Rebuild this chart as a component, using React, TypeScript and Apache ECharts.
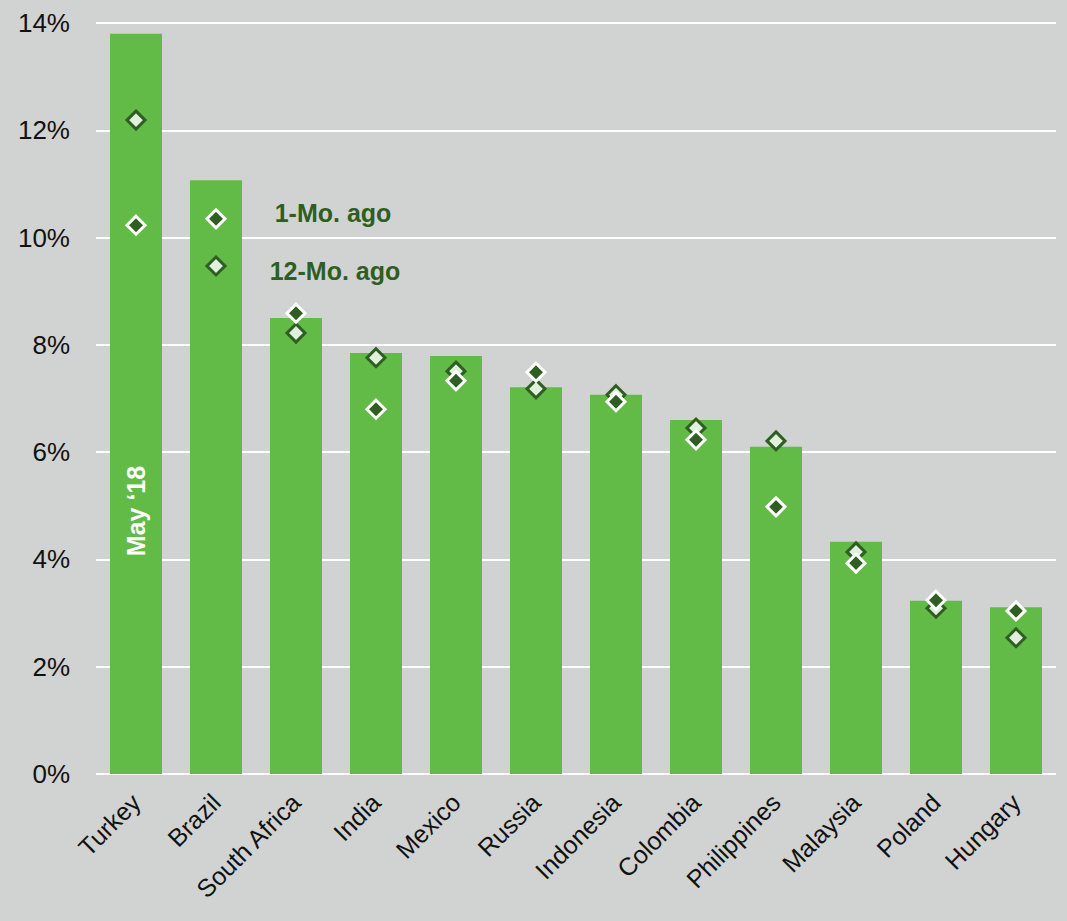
import React, { useEffect, useRef } from "react";
import * as echarts from "echarts";

const categories = ["Turkey", "Brazil", "South Africa", "India", "Mexico", "Russia", "Indonesia", "Colombia", "Philippines", "Malaysia", "Poland", "Hungary"];
const may18 = [13.8, 11.07, 8.5, 7.85, 7.79, 7.21, 7.07, 6.6, 6.1, 4.33, 3.23, 3.11];
const oneMoAgo = [10.23, 10.35, 8.59, 6.8, 7.33, 7.49, 6.94, 6.23, 4.98, 3.93, 3.24, 3.04];
const twelveMoAgo = [12.19, 9.47, 8.22, 7.76, 7.51, 7.18, 7.07, 6.45, 6.21, 4.14, 3.09, 2.54];
const yTicks = [0, 2, 4, 6, 8, 10, 12, 14];

const DARK = "#2e5e22";
const LIGHT = "#e0f0dc";
const BAR = "#62bb46";
const BG = "#d1d3d2";
const FONT = "'Liberation Sans', Arial, sans-serif";

export default function App() {
  const ref = useRef<HTMLDivElement>(null);
  useEffect(() => {
    document.body.style.margin = "0";
    const chart = echarts.init(ref.current!, null, { renderer: "svg" });
    chart.setOption({
      animation: false,
      backgroundColor: BG,
      grid: { left: 96, right: 11, top: 23, bottom: 147 },
      xAxis: {
        type: "category",
        data: categories,
        axisLine: { show: false },
        axisTick: { show: false },
        axisLabel: {
          rotate: 45,
          interval: 0,
          fontSize: 25,
          color: "#111",
          fontFamily: FONT,
          margin: 24,
        },
      },
      yAxis: {
        type: "value",
        min: yTicks[0],
        max: yTicks[yTicks.length - 1],
        interval: 2,
        axisLine: { show: false },
        axisTick: { show: false },
        splitLine: { lineStyle: { color: "#ffffff", width: 2 } },
        axisLabel: {
          formatter: (v: number) => v + "%",
          fontSize: 26,
          color: "#111",
          fontFamily: FONT,
          margin: 26,
        },
      },
      series: [
        {
          name: "May '18",
          type: "bar",
          data: may18,
          barWidth: 52,
          itemStyle: { color: BAR },
          z: 2,
        },
        {
          name: "12-Mo. ago",
          type: "scatter",
          data: twelveMoAgo,
          symbol: "diamond",
          symbolSize: 18,
          itemStyle: { color: LIGHT, borderColor: DARK, borderWidth: 3, opacity: 1 },
          z: 3,
        },
        {
          name: "1-Mo. ago",
          type: "scatter",
          data: oneMoAgo,
          symbol: "diamond",
          symbolSize: 18,
          itemStyle: { color: DARK, borderColor: "#ffffff", borderWidth: 3, opacity: 1 },
          z: 4,
        },
      ],
      graphic: [
        {
          type: "text",
          x: 333,
          y: 213,
          style: { text: "1-Mo. ago", fill: DARK, font: `bold 25px ${FONT}`, align: "center", verticalAlign: "middle" },
          z: 10,
        },
        {
          type: "text",
          x: 335,
          y: 271,
          style: { text: "12-Mo. ago", fill: DARK, font: `bold 25px ${FONT}`, align: "center", verticalAlign: "middle" },
          z: 10,
        },
        {
          type: "text",
          x: 136,
          y: 511,
          rotation: Math.PI / 2,
          style: {
            text: "May \u201818",
            fill: "#ffffff",
            font: `bold 25px ${FONT}`,
            align: "center",
            verticalAlign: "middle",
          },
          z: 10,
        },
      ],
    });
    return () => chart.dispose();
  }, []);
  return <div ref={ref} style={{ width: 1067, height: 921, position: "absolute", left: 0, top: 0 }} />;
}
